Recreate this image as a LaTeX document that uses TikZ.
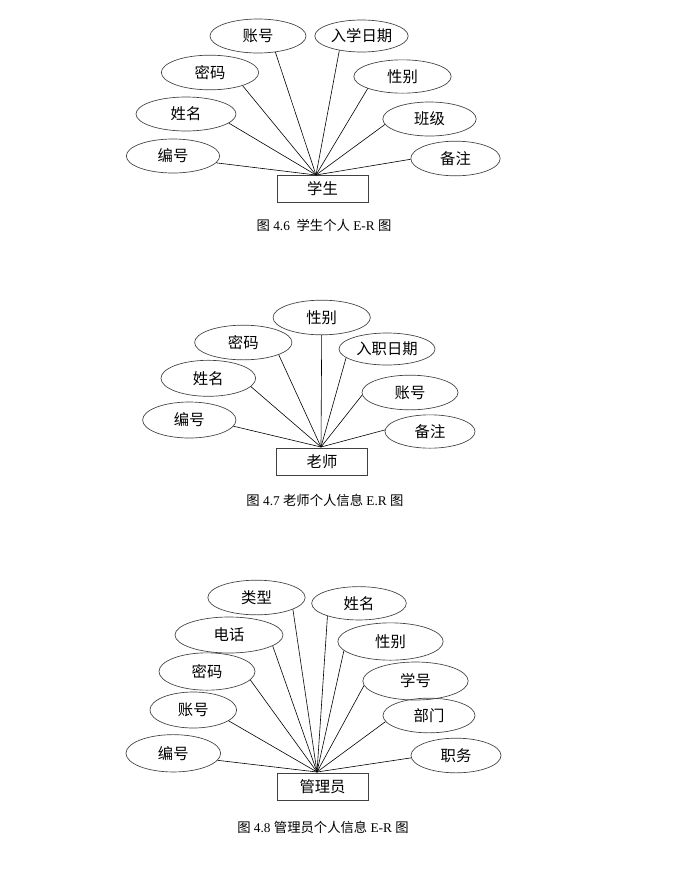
\documentclass[tikz,border=0pt]{standalone}
\usepackage{fontspec}
\setmainfont{Liberation Serif}
\newfontfamily\cjk{Noto Sans CJK SC}
\usetikzlibrary{shapes.geometric}
\tikzset{
  attr/.style 2 args={ellipse, draw=black!75, line width=0.5pt, inner sep=0pt,
    minimum width=#1, minimum height=#2, font=\cjk\fontsize{11.5}{12}\selectfont},
  entity/.style={rectangle, draw=black!75, line width=0.5pt, inner sep=0pt,
    minimum width=68pt, minimum height=20pt, font=\cjk\fontsize{11.5}{12}\selectfont},
  figcap/.style={inner sep=0pt, font=\fontsize{10}{12}\selectfont},
  link/.style={line width=0.45pt}
}
\begin{document}
\begin{tikzpicture}[x=0.75pt, y=-0.75pt]
  \useasboundingbox (0,0) rectangle (693,875);

  \node[entity] (stu) at (322.5,189) {学生};
  \coordinate (c1) at (316,175);
  \node[attr={72pt}{25.5pt}] (s1) at (258,36) {账号};
  \node[attr={70pt}{24pt}] (s2) at (361.5,36) {入学日期};
  \node[attr={73pt}{26pt}] (s3) at (210,72.5) {密码};
  \node[attr={73pt}{25pt}] (s4) at (402.5,76.5) {性别};
  \node[attr={75pt}{25.5pt}] (s5) at (186,114) {姓名};
  \node[attr={70pt}{25.5pt}] (s6) at (429.5,119) {班级};
  \node[attr={70pt}{25.5pt}] (s7) at (173,156) {编号};
  \node[attr={67pt}{26pt}] (s8) at (455.5,158.5) {备注};
  \draw[link] (c1) -- (s1.-43);
  \draw[link] (c1) -- (s2.-147);
  \draw[link] (c1) -- (s3.-22);
  \draw[link] (c1) -- (s4.-161);
  \draw[link] (c1) -- (s5.-12);
  \draw[link] (c1) -- (s6.-173);
  \draw[link] (c1) -- (s7.-9);
  \draw[link] (c1) -- (s8.-179);
  \node[figcap] (cap1) at (324,225) {{\cjk 图} 4.6 \ {\cjk 学生个人} E-R {\cjk 图}};

  \node[entity] (tch) at (322,461.5) {老师};
  \coordinate (c2) at (321,447);
  \node[attr={73pt}{26pt}] (t1) at (321.7,317.5) {性别};
  \node[attr={73pt}{26pt}] (t2) at (243.3,342.5) {密码};
  \node[attr={72pt}{24pt}] (t3) at (387,349) {入职日期};
  \node[attr={71pt}{27pt}] (t4) at (208.3,378.3) {姓名};
  \node[attr={72pt}{26pt}] (t5) at (410,392.5) {账号};
  \node[attr={70pt}{27pt}] (t6) at (189.3,420) {编号};
  \node[attr={67.5pt}{25pt}] (t7) at (430,431.5) {备注};
  \draw[link] (c2) -- (t1.-90);
  \draw[link] (c2) -- (t2.-19);
  \draw[link] (c2) -- (t3.-168);
  \draw[link] (c2) -- (t4.-11);
  \draw[link] (c2) -- (t5.-177);
  \draw[link] (c2) -- (t6.-8);
  \draw[link] (c2) -- (t7.178);
  \node[figcap] (cap2) at (325,500) {{\cjk 图} 4.7 {\cjk 老师个人信息} E.R {\cjk 图}};

  \node[entity] (adm) at (322.5,786.5) {管理员};
  \coordinate (c3) at (317,772);
  \node[attr={73pt}{26pt}] (a1) at (256.5,597.5) {类型};
  \node[attr={71pt}{25pt}] (a2) at (359,603.3) {姓名};
  \node[attr={81pt}{27pt}] (a3) at (229,635) {电话};
  \node[attr={79pt}{28pt}] (a4) at (390.5,641.5) {性别};
  \node[attr={72pt}{28pt}] (a5) at (207,671.5) {密码};
  \node[attr={79pt}{28.5pt}] (a6) at (415.5,681) {学号};
  \node[attr={65pt}{27pt}] (a7) at (193.3,710) {账号};
  \node[attr={69pt}{26pt}] (a8) at (429,715.5) {部门};
  \node[attr={71pt}{28pt}] (a9) at (173.3,753.3) {编号};
  \node[attr={67.5pt}{26pt}] (a10) at (456,755.5) {职务};
  \draw[link] (c3) -- (a1.-18);
  \draw[link] (c3) -- (a2.-158);
  \draw[link] (c3) -- (a3.-14);
  \draw[link] (c3) -- (a4.-169);
  \draw[link] (c3) -- (a5.-11);
  \draw[link] (c3) -- (a6.-175);
  \draw[link] (c3) -- (a7.-17);
  \draw[link] (c3) -- (a8.-172);
  \draw[link] (c3) -- (a9.-9);
  \draw[link] (c3) -- (a10.-177);
  \node[figcap] (cap3) at (323,827) {{\cjk 图} 4.8 {\cjk 管理员个人信息} E-R {\cjk 图}};
\end{tikzpicture}
\end{document}
